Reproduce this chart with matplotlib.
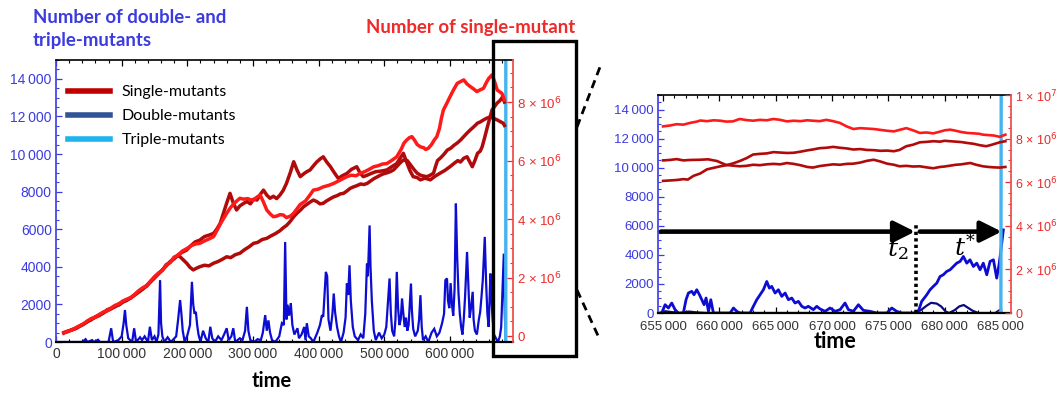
import numpy as np
import matplotlib
matplotlib.use("Agg")
import matplotlib.pyplot as plt
from matplotlib.ticker import MultipleLocator, FuncFormatter, FixedLocator
from matplotlib.lines import Line2D
from matplotlib.patches import Rectangle

# ---------------- data (time in thousands, single-mutant numbers in millions) ----------------
single_a = [(12, 0.12), (18, 0.15), (24, 0.22), (30, 0.25), (36, 0.33), (42, 0.40), (48, 0.50), (54, 0.58),
            (60, 0.64), (66, 0.70), (72, 0.80), (78, 0.86), (84, 0.93), (90, 1.02), (96, 1.06), (102, 1.16),
            (108, 1.22), (114, 1.31), (120, 1.40), (126, 1.50), (132, 1.60), (138, 1.73), (144, 1.85),
            (150, 1.98), (156, 2.12), (162, 2.26), (168, 2.40), (174, 2.55), (180, 2.64), (186, 2.78),
            (192, 2.86), (199, 2.94), (205, 3.08), (212, 3.22), (219, 3.28), (226, 3.40), (233, 3.45),
            (240, 3.51), (245, 3.66), (250, 3.85), (255, 4.20), (260, 4.55), (265, 4.88), (270, 4.55),
            (275, 4.31), (280, 4.45), (286, 4.54), (291, 4.60), (296, 4.52), (301, 4.68), (306, 4.65),
            (311, 4.84), (316, 4.99), (321, 4.82), (326, 4.71), (331, 4.78), (336, 4.70), (341, 4.82),
            (346, 4.98), (351, 5.22), (357, 5.60), (362, 5.96), (367, 5.68), (372, 5.45), (378, 5.56),
            (382, 5.62), (387, 5.68), (392, 5.82), (397, 5.95), (402, 6.05), (407, 6.13), (412, 5.96),
            (418, 5.79), (424, 5.58), (430, 5.39), (436, 5.48), (443, 5.56), (450, 5.70), (458, 5.79),
            (463, 5.58), (468, 5.45), (474, 5.50), (480, 5.56), (487, 5.62), (495, 5.64), (504, 5.68),
            (512, 5.80), (519, 5.90), (524, 6.08), (529, 6.25), (534, 5.95), (539, 5.66), (544, 5.45),
            (550, 5.42), (555, 5.34), (562, 5.40), (570, 5.34), (577, 5.46), (585, 5.57), (592, 5.66),
            (600, 5.79), (606, 5.90), (612, 6.00), (616, 5.95), (621, 6.08), (626, 6.13), (630, 5.96),
            (634, 5.79), (638, 6.00), (642, 6.25), (646, 6.32), (649, 6.47), (653, 6.80), (657, 7.15),
            (660, 7.40), (664, 7.73), (668, 7.85), (672, 7.97), (676, 8.05), (680, 8.17), (683, 8.00)]

single_b = [(12, 0.11), (18, 0.16), (24, 0.20), (30, 0.28), (36, 0.35), (42, 0.42), (48, 0.52), (54, 0.60),
            (60, 0.64), (66, 0.74), (72, 0.82), (78, 0.87), (84, 0.96), (90, 1.05), (96, 1.10), (102, 1.20),
            (108, 1.26), (114, 1.32), (120, 1.42), (126, 1.55), (132, 1.65), (138, 1.72), (144, 1.88),
            (150, 2.02), (156, 2.15), (162, 2.25), (168, 2.42), (174, 2.52), (180, 2.70), (186, 2.76),
            (192, 2.90), (200, 3.00), (207, 3.10), (213, 3.15), (219, 3.17), (226, 3.25), (233, 3.32),
            (240, 3.40), (246, 3.65), (252, 3.90), (256, 4.05), (260, 4.20), (266, 4.40), (272, 4.55),
            (280, 4.71), (286, 4.68), (292, 4.70), (296, 4.66), (301, 4.65), (306, 4.75), (311, 4.82),
            (316, 4.58), (321, 4.31), (326, 4.18), (331, 4.08), (336, 4.10), (341, 4.15), (346, 4.14),
            (351, 4.05), (357, 4.10), (362, 4.20), (367, 4.35), (372, 4.50), (380, 4.62), (386, 4.80),
            (392, 4.99), (399, 5.02), (407, 5.10), (415, 5.15), (423, 5.22), (430, 5.30), (437, 5.38),
            (443, 5.45), (450, 5.50), (457, 5.48), (463, 5.56), (470, 5.62), (477, 5.70), (484, 5.79),
            (490, 5.82), (497, 5.88), (504, 5.90), (511, 6.00), (519, 6.13), (526, 6.40), (530, 6.60),
            (534, 6.70), (538, 6.78), (542, 6.82), (546, 6.70), (550, 6.55), (555, 6.47), (560, 6.44),
            (563, 6.38), (567, 6.42), (572, 6.55), (576, 6.70), (580, 6.82), (584, 7.10), (587, 7.45),
            (590, 7.73), (595, 7.95), (600, 8.18), (605, 8.40), (611, 8.64), (616, 8.70), (621, 8.76),
            (626, 8.62), (631, 8.53), (636, 8.45), (641, 8.36), (646, 8.42), (651, 8.47), (655, 8.65),
            (659, 8.81), (662, 8.88), (664, 8.93), (668, 8.70), (672, 8.41), (676, 8.35), (679, 8.30),
            (681, 8.20), (683, 8.07)]

single_c = [(12, 0.10), (18, 0.17), (24, 0.20), (30, 0.27), (36, 0.34), (42, 0.41), (48, 0.49), (54, 0.56),
            (60, 0.66), (66, 0.72), (72, 0.78), (78, 0.90), (84, 0.95), (90, 1.00), (96, 1.10), (102, 1.18),
            (108, 1.24), (114, 1.30), (120, 1.42), (126, 1.53), (132, 1.62), (138, 1.70), (144, 1.86),
            (150, 2.02), (156, 2.14), (162, 2.25), (168, 2.44), (174, 2.52), (180, 2.68), (186, 2.74),
            (189, 2.71), (194, 2.60), (199, 2.49), (204, 2.35), (209, 2.26), (214, 2.32), (219, 2.37),
            (226, 2.42), (233, 2.40), (240, 2.49), (247, 2.55), (253, 2.62), (260, 2.71), (266, 2.68),
            (273, 2.78), (280, 2.83), (287, 2.95), (294, 3.05), (301, 3.17), (307, 3.20), (314, 3.30),
            (321, 3.34), (327, 3.42), (334, 3.50), (341, 3.60), (346, 3.70), (351, 3.78), (356, 3.90),
            (362, 4.08), (367, 4.20), (372, 4.30), (377, 4.42), (382, 4.50), (387, 4.58), (392, 4.65),
            (397, 4.60), (402, 4.52), (407, 4.54), (412, 4.62), (418, 4.70), (423, 4.76), (428, 4.80),
            (433, 4.86), (438, 4.88), (443, 4.96), (448, 5.05), (453, 5.10), (458, 5.14), (464, 5.20),
            (469, 5.18), (474, 5.22), (479, 5.30), (484, 5.38), (489, 5.44), (494, 5.50), (499, 5.55),
            (504, 5.58), (509, 5.62), (514, 5.68), (519, 5.80), (524, 5.92), (529, 6.02), (535, 6.00),
            (540, 5.85), (545, 5.70), (550, 5.57), (555, 5.50), (560, 5.47), (565, 5.45), (570, 5.50),
            (575, 5.57), (578, 5.80), (581, 6.00), (586, 6.10), (591, 6.22), (596, 6.36), (601, 6.42),
            (606, 6.52), (611, 6.60), (616, 6.70), (621, 6.82), (626, 6.94), (631, 7.05), (636, 7.15),
            (642, 7.28), (646, 7.32), (651, 7.39), (656, 7.45), (661, 7.49), (666, 7.45), (672, 7.39),
            (676, 7.34), (681, 7.28), (683, 7.20)]

double_full = [(0, 0), (40, 0), (45, 150), (48, 0), (55, 100), (58, 0), (64, 120), (67, 0), (80, 0), (84, 730),
               (87, 0), (95, 100), (100, 300), (103, 1000), (105, 1700), (107, 900), (110, 200), (116, 0),
               (119, 730), (122, 0), (128, 250), (131, 100), (135, 300), (140, 0), (143, 810), (146, 100),
               (150, 300), (153, 0), (156, 400), (158.5, 3290), (160, 1000), (162, 300), (165, 0), (170, 250),
               (175, 0), (183, 300), (186, 1200), (189, 2230), (191, 1500), (193, 600), (196, 0), (200, 350),
               (204, 900), (207, 3200), (209, 2000), (211, 1500), (213, 1600), (215, 900), (217, 400),
               (220, 0), (224, 600), (228, 200), (232, 0), (235, 810), (238, 200), (242, 0), (247, 300),
               (252, 100), (256, 400), (260, 730), (263, 100), (267, 300), (270, 730), (273, 0), (280, 200),
               (284, 100), (288, 600), (290.7, 1870), (293, 600), (296, 100), (302, 0), (307, 150),
               (312, 100), (315, 500), (318.6, 1430), (321, 600), (323.5, 1150), (326, 500), (329, 100),
               (334, 0), (340, 300), (344, 1000), (347, 900), (349, 5320), (351, 1200), (352.6, 1980),
               (355, 1400), (357.6, 2070), (360, 900), (363, 400), (367.8, 730), (370, 200), (374, 400),
               (378, 800), (380, 100), (382, 1000), (385, 300), (388, 200), (392, 0), (398, 500), (402, 900),
               (405, 1430), (407, 1340), (409, 2500), (411, 3730), (413, 3500), (415, 1200), (418, 600),
               (421, 1500), (423, 2580), (425, 1600), (428, 800), (431, 300), (434, 0), (438, 500),
               (441, 1300), (443, 3110), (445, 2500), (447, 4080), (449, 2200), (452, 800), (455, 300),
               (460, 100), (464, 400), (468, 200), (471, 1500), (473.6, 4170), (475, 3500), (477.6, 6200),
               (479, 4000), (481, 2200), (484, 600), (487, 100), (492, 500), (496, 200), (500, 400),
               (503, 800), (505, 1800), (508, 3380), (510, 1500), (512, 600), (515, 300), (517, 1200),
               (519, 3730), (521, 1800), (523, 900), (525, 1200), (527, 2315), (529, 1500), (531, 800),
               (533, 1300), (535, 600), (537, 900), (540.6, 3110), (542, 1700), (544, 700), (547, 300),
               (551, 600), (553, 1200), (555, 2490), (557, 800), (559, 100), (563, 300), (567, 0),
               (572, 500), (576, 700), (580, 300), (584, 500), (588, 1000), (591, 1500), (593, 3290),
               (595.5, 3380), (597, 2200), (599, 1800), (601, 3130), (603, 2000), (605, 1400), (607, 2800),
               (609, 7360), (611, 4500), (613, 2600), (615, 1500), (617, 800), (619, 400), (621, 1200),
               (623, 2400), (626, 4790), (628, 3000), (630, 1300), (632, 1800), (634.6, 2670), (636, 1200),
               (638, 600), (641, 400), (644, 1200), (646, 1600), (648, 2400), (650, 3300), (653, 5590),
               (655, 3200), (657, 1500), (659, 800), (661.6, 3640), (663, 2400), (665, 1200), (667, 400),
               (670, 200), (673, 0), (676, 300), (678, 800), (680, 2800), (682, 4700), (683.5, 1500),
               (685, 0)]

triple = [(684.9, 0), (685.0, 0), (685.08, 40000)]

zoom_single_top = [(655.0, 8.56), (655.6, 8.60), (656.2, 8.66), (656.8, 8.64), (657.4, 8.72), (658.0, 8.78),
                   (658.3, 8.83), (658.9, 8.80), (659.5, 8.84), (660.1, 8.82), (660.6, 8.78), (661.2, 8.79),
                   (661.8, 8.90), (662.4, 8.85), (663.0, 8.82), (663.6, 8.86), (664.2, 8.84), (664.8, 8.90),
                   (665.4, 8.86), (666.0, 8.79), (666.6, 8.82), (667.2, 8.80), (667.8, 8.84), (668.3, 8.82),
                   (668.9, 8.80), (669.5, 8.86), (670.1, 8.80), (670.7, 8.72), (671.3, 8.56), (671.9, 8.44),
                   (672.5, 8.48), (673.1, 8.46), (673.7, 8.44), (674.3, 8.40), (674.9, 8.36), (675.5, 8.33),
                   (676.0, 8.40), (676.6, 8.48), (677.2, 8.38), (677.8, 8.26), (678.4, 8.28), (679.0, 8.24),
                   (679.6, 8.32), (680.0, 8.38), (680.5, 8.41), (681.0, 8.36), (681.5, 8.30), (682.0, 8.26),
                   (682.6, 8.24), (683.1, 8.22), (683.4, 8.18), (683.9, 8.16), (684.4, 8.14), (684.9, 8.08),
                   (685.4, 8.18)]

zoom_single_mid = [(655.0, 7.00), (655.6, 7.02), (656.2, 7.06), (656.8, 7.00), (657.4, 7.02), (658.3, 7.03),
                   (659.0, 7.05), (659.8, 6.97), (660.6, 6.79), (661.2, 6.76), (661.8, 6.73), (662.4, 6.75),
                   (663.0, 6.80), (663.6, 6.78), (664.2, 6.82), (664.8, 6.84), (665.4, 6.82), (666.0, 6.88),
                   (666.6, 6.84), (667.2, 6.78), (667.8, 6.70), (668.3, 6.67), (668.9, 6.74), (669.5, 6.78),
                   (670.1, 6.82), (670.7, 6.80), (671.3, 6.84), (671.9, 6.85), (672.5, 6.90), (673.1, 6.98),
                   (673.7, 7.03), (674.3, 6.95), (674.9, 6.85), (675.5, 6.80), (676.0, 6.73), (676.6, 6.75),
                   (677.2, 6.72), (677.8, 6.73), (678.4, 6.68), (679.0, 6.64), (679.6, 6.70), (680.0, 6.72),
                   (680.5, 6.76), (681.0, 6.80), (681.5, 6.82), (682.0, 6.86), (682.3, 6.88), (682.8, 6.80),
                   (683.4, 6.73), (683.9, 6.70), (684.4, 6.68), (684.9, 6.67), (685.4, 6.70)]

zoom_single_low = [(655.0, 6.06), (655.6, 6.08), (656.2, 6.10), (656.8, 6.14), (657.2, 6.12), (657.7, 6.29),
                   (658.3, 6.40), (658.9, 6.59), (659.5, 6.66), (660.1, 6.73), (660.6, 6.78), (661.2, 6.86),
                   (661.8, 6.97), (662.4, 7.10), (663.0, 7.27), (663.6, 7.30), (664.2, 7.32), (664.8, 7.38),
                   (665.4, 7.36), (666.0, 7.34), (666.6, 7.35), (667.2, 7.40), (667.8, 7.46), (668.3, 7.50),
                   (668.9, 7.56), (669.5, 7.58), (670.1, 7.62), (670.7, 7.58), (671.3, 7.55), (671.9, 7.50),
                   (672.5, 7.52), (673.1, 7.48), (673.7, 7.47), (674.3, 7.44), (674.9, 7.45), (675.5, 7.42),
                   (676.0, 7.48), (676.6, 7.65), (677.2, 7.72), (677.8, 7.83), (678.4, 7.85), (679.0, 7.88),
                   (679.6, 7.86), (680.0, 7.90), (680.5, 7.88), (681.0, 7.86), (681.5, 7.84), (682.0, 7.80),
                   (682.6, 7.76), (683.1, 7.70), (683.7, 7.65), (684.2, 7.72), (684.9, 7.83), (685.4, 7.88)]

zoom_double_main = [(654.88, 0), (655.18, 570), (655.47, 343), (655.77, 687), (656.07, 227), (656.36, 0),
                    (656.8, 0), (657.04, 914), (657.25, 1374), (657.55, 1490), (657.75, 1260), (657.99, 1600),
                    (658.23, 1260), (658.44, 914), (658.64, 570), (658.82, 1030), (659.03, 115), (659.24, 914),
                    (659.47, 0), (660.95, 0), (661.25, 343), (661.55, 115), (661.84, 0), (662.73, 0),
                    (663.02, 460), (663.32, 914), (663.62, 1260), (663.91, 1600), (664.21, 2170),
                    (664.44, 1715), (664.65, 1830), (664.95, 1374), (665.24, 1600), (665.54, 1145),
                    (665.84, 1374), (666.13, 914), (666.43, 1030), (666.72, 687), (667.02, 800), (667.32, 460),
                    (667.61, 343), (667.9, 460), (668.35, 230), (668.65, 460), (668.94, 280), (669.39, 115),
                    (669.83, 343), (670.28, 115), (670.72, 230), (671.16, 687), (671.46, 230), (671.9, 115),
                    (672.35, 570), (672.79, 180), (673.38, 115), (673.98, 0), (674.87, 0), (675.31, 343),
                    (675.75, 115), (676.2, 0), (677.38, 0), (677.67, 110), (677.97, 800), (678.42, 1257),
                    (678.71, 1600), (679.0, 1830), (679.31, 2060), (679.6, 2515), (679.89, 2630),
                    (680.19, 2860), (680.49, 2975), (680.78, 3200), (681.08, 3430), (681.38, 3550),
                    (681.67, 3890), (681.97, 3430), (682.26, 3660), (682.56, 3200), (682.86, 3430),
                    (683.15, 2975), (683.44, 3430), (683.75, 2630), (684.04, 3550), (684.34, 3660),
                    (684.63, 2400), (684.86, 3430), (685.08, 4800), (685.22, 5720)]

zoom_double_low = [(654.6, 0), (655.2, 120), (655.8, 60), (656.5, 0), (657.3, 100), (658.0, 40), (659.0, 0),
                   (677.4, 0), (677.9, 200), (678.4, 500), (678.8, 700), (679.3, 650), (679.7, 450),
                   (680.1, 100), (680.4, 0), (680.9, 200), (681.3, 450), (681.7, 550), (682.1, 350),
                   (682.5, 150), (683.0, 0), (684.5, 0), (684.9, 200), (685.1, 0)]

left_yticks = [0, 2000, 4000, 6000, 8000, 10000, 12000, 14000]
full_xticks = [0, 100000, 200000, 300000, 400000, 500000, 600000]
full_red_ticks = [0, 2e6, 4e6, 6e6, 8e6]
zoom_xticks = [655000, 660000, 665000, 670000, 675000, 680000, 685000]
zoom_red_ticks = [0, 2e6, 4e6, 6e6, 8e6, 1e7]
t2_time = 677.47          # thousands
arrow_level = 5600
legend_labels = ["Single-mutants", "Double-mutants", "Triple-mutants"]

# ---------------- styling ----------------
BLUE_T = "#3b3be0"
RED_T = "#ee2a2a"
DARK_RED = "#b00a0a"
BRIGHT_RED = "#ff1a1a"
DATA_BLUE = "#0c0cd2"
CYAN = "#45b3ee"
TICKFONT = ["Liberation Sans", "DejaVu Sans"]
TITLEFONT = ["Lato", "DejaVu Sans"]

W, H = 1058, 396
fig = plt.figure(figsize=(W / 100, H / 100), dpi=100)


def fx(px):
    return px / W


def fy(py):
    return 1 - py / H


def pts(data, tscale=1000.0, vscale=1.0):
    t = np.array([p[0] for p in data], dtype=float) * tscale
    v = np.array([p[1] for p in data], dtype=float) * vscale
    return t, v


THIN = "\u2009"


def grouped(v, _=None):
    s = f"{int(round(v))}"
    if len(s) > 4:
        s = s[:-3] + THIN + s[-3:]
    return s


def sci(v, _=None):
    if abs(v) < 1:
        return "0"
    e = int(np.floor(np.log10(v) + 1e-9))
    m = v / 10 ** e
    return f"{m:.0f} × 10$^{{{e}}}$"


def style_pair(ax, axr, xticks, xminor, xlim, ylim, rticks, rlim, xfs, yfs, rfs, xpad):
    ax.set_xlim(*xlim)
    ax.set_ylim(*ylim)
    axr.set_ylim(*rlim)
    ax.xaxis.set_major_locator(FixedLocator(xticks))
    ax.xaxis.set_minor_locator(MultipleLocator(xminor))
    ax.xaxis.set_major_formatter(FuncFormatter(grouped))
    ax.yaxis.set_major_locator(FixedLocator(left_yticks))
    ax.yaxis.set_minor_locator(MultipleLocator(500))
    ax.yaxis.set_major_formatter(FuncFormatter(grouped))
    axr.yaxis.set_major_locator(FixedLocator(rticks))
    axr.yaxis.set_minor_locator(MultipleLocator(5e5))
    axr.yaxis.set_major_formatter(FuncFormatter(sci))

    ax.tick_params(axis="x", which="both", direction="in", top=True, bottom=True,
                   colors="#333333", labelsize=xfs, pad=xpad)
    ax.tick_params(axis="x", which="major", length=4.5, width=0.9, color="black")
    ax.tick_params(axis="x", which="minor", length=2.5, width=0.8, color="black")
    ax.tick_params(axis="y", which="both", direction="in", left=True, right=False,
                   colors=BLUE_T, labelsize=yfs, pad=3)
    ax.tick_params(axis="y", which="major", length=4.5, width=0.9)
    ax.tick_params(axis="y", which="minor", length=2.5, width=0.8)
    axr.tick_params(axis="y", which="both", direction="in", right=True, left=False,
                    colors=RED_T, labelsize=rfs, pad=3)
    axr.tick_params(axis="y", which="major", length=4.5, width=0.9)
    axr.tick_params(axis="y", which="minor", length=2.5, width=0.8)
    for lab in ax.get_xticklabels() + ax.get_yticklabels() + axr.get_yticklabels():
        lab.set_fontfamily(TICKFONT)

    ax.spines["left"].set_color("#4848ec")
    ax.spines["left"].set_linewidth(1.3)
    ax.spines["top"].set_color("black")
    ax.spines["top"].set_linewidth(1.2)
    ax.spines["bottom"].set_color("black")
    ax.spines["bottom"].set_linewidth(1.6)
    ax.spines["right"].set_visible(False)
    for s in ("left", "top", "bottom"):
        axr.spines[s].set_visible(False)
    axr.spines["right"].set_color("#f05050")
    axr.spines["right"].set_linewidth(1.3)


# ---------------- left (full) panel ----------------
ax1 = fig.add_axes([fx(56), fy(342), fx(513) - fx(56), fy(60) - fy(342)])
ax1r = ax1.twinx()

t, v = pts(double_full)
ax1.plot(t, v, color=DATA_BLUE, lw=1.6, solid_joinstyle="miter")
t, v = pts(triple)
ax1.plot(t, v, color=CYAN, lw=2.4)

for data, col in ((single_c, DARK_RED), (single_a, DARK_RED), (single_b, BRIGHT_RED)):
    t, v = pts(data, vscale=1e6)
    ax1r.plot(t, v, color=col, lw=2.5)

style_pair(ax1, ax1r, full_xticks, 20000, (0, 696000), (0, 15000),
           full_red_ticks, (-0.205e6, 9.44e6), 10, 10, 9.5, 3.5)

handles = [Line2D([], [], color="#c00000", lw=4),
           Line2D([], [], color="#2f5597", lw=4),
           Line2D([], [], color="#1eb4ec", lw=4)]
ax1r.legend(handles, legend_labels, loc="upper left", bbox_to_anchor=(fx(68), fy(85)),
            bbox_transform=fig.transFigure, frameon=False, borderpad=0, borderaxespad=0,
            handlelength=2.6, handletextpad=0.75, labelspacing=0.62,
            prop={"family": TITLEFONT, "size": 11.5})

# ---------------- right (zoom) panel ----------------
ax2 = fig.add_axes([fx(658), fy(313), fx(1011) - fx(658), fy(95) - fy(313)])
ax2r = ax2.twinx()

t, v = pts(zoom_double_low)
ax2.plot(t, v, color="#0a0a80", lw=1.6)
t, v = pts(zoom_double_main)
ax2.plot(t, v, color=DATA_BLUE, lw=2.0)
t, v = pts(triple)
ax2.plot(t, v, color=CYAN, lw=2.4)

for data, col in ((zoom_single_mid, DARK_RED), (zoom_single_low, DARK_RED), (zoom_single_top, BRIGHT_RED)):
    t, v = pts(data, vscale=1e6)
    ax2r.plot(t, v, color=col, lw=1.9)

style_pair(ax2, ax2r, zoom_xticks, 1000, (654550, 685900), (0, 15000),
           zoom_red_ticks, (0, 1e7), 9.5, 9.5, 9, 5.5)

# arrows, t2 line and labels
arrow_kw = dict(arrowstyle="-|>,head_length=0.8,head_width=0.4", lw=3.3, color="black",
                mutation_scale=16, shrinkA=0, shrinkB=0)
ax2.annotate("", xy=(677380, arrow_level), xytext=(654800, arrow_level),
             arrowprops=arrow_kw, annotation_clip=False)
ax2.annotate("", xy=(685070, arrow_level), xytext=(677800, arrow_level),
             arrowprops=arrow_kw, annotation_clip=False)
ax2.plot([t2_time * 1000, t2_time * 1000], [0, 6200], color="black", lw=2.6,
         ls=(0, (0.9, 0.9)), solid_capstyle="butt")
ax2.text(675800, 5250, r"$t_2$", fontsize=18, math_fontfamily="dejavuserif",
         ha="center", va="top")
ax2.text(681800, 5450, r"$t^{*}$", fontsize=18, math_fontfamily="dejavuserif",
         ha="center", va="top")

# ---------------- figure-level annotations ----------------
fig.text(fx(33), fy(9), "Number of double- and\ntriple-mutants", color=BLUE_T, fontsize=13.4,
         fontweight="bold", family=TITLEFONT, ha="left", va="top", linespacing=1.4)
fig.text(fx(471), fy(28), "Number of single-mutant", color=RED_T, fontsize=13.4,
         fontweight="bold", family=TITLEFONT, ha="center", va="center")
fig.text(fx(272), fy(381), "time", color="black", fontsize=14.5, fontweight="bold",
         family=TITLEFONT, ha="center", va="center")
fig.text(fx(835), fy(341), "time", color="black", fontsize=15.5, fontweight="bold",
         family=TITLEFONT, ha="center", va="center")

fig.add_artist(Rectangle((fx(493), fy(356)), fx(576) - fx(493), fy(41) - fy(356),
                         transform=fig.transFigure, fill=False, lw=2.4, ec="black", zorder=5))
fig.add_artist(Line2D([fx(577), fx(600)], [fy(127), fy(67)], transform=fig.transFigure,
                      color="black", lw=2.0, ls=(0, (3, 2)), zorder=5))
fig.add_artist(Line2D([fx(577), fx(600)], [fy(290), fy(340)], transform=fig.transFigure,
                      color="black", lw=2.0, ls=(0, (3, 2)), zorder=5))

fig.savefig("out.png", dpi=100)
